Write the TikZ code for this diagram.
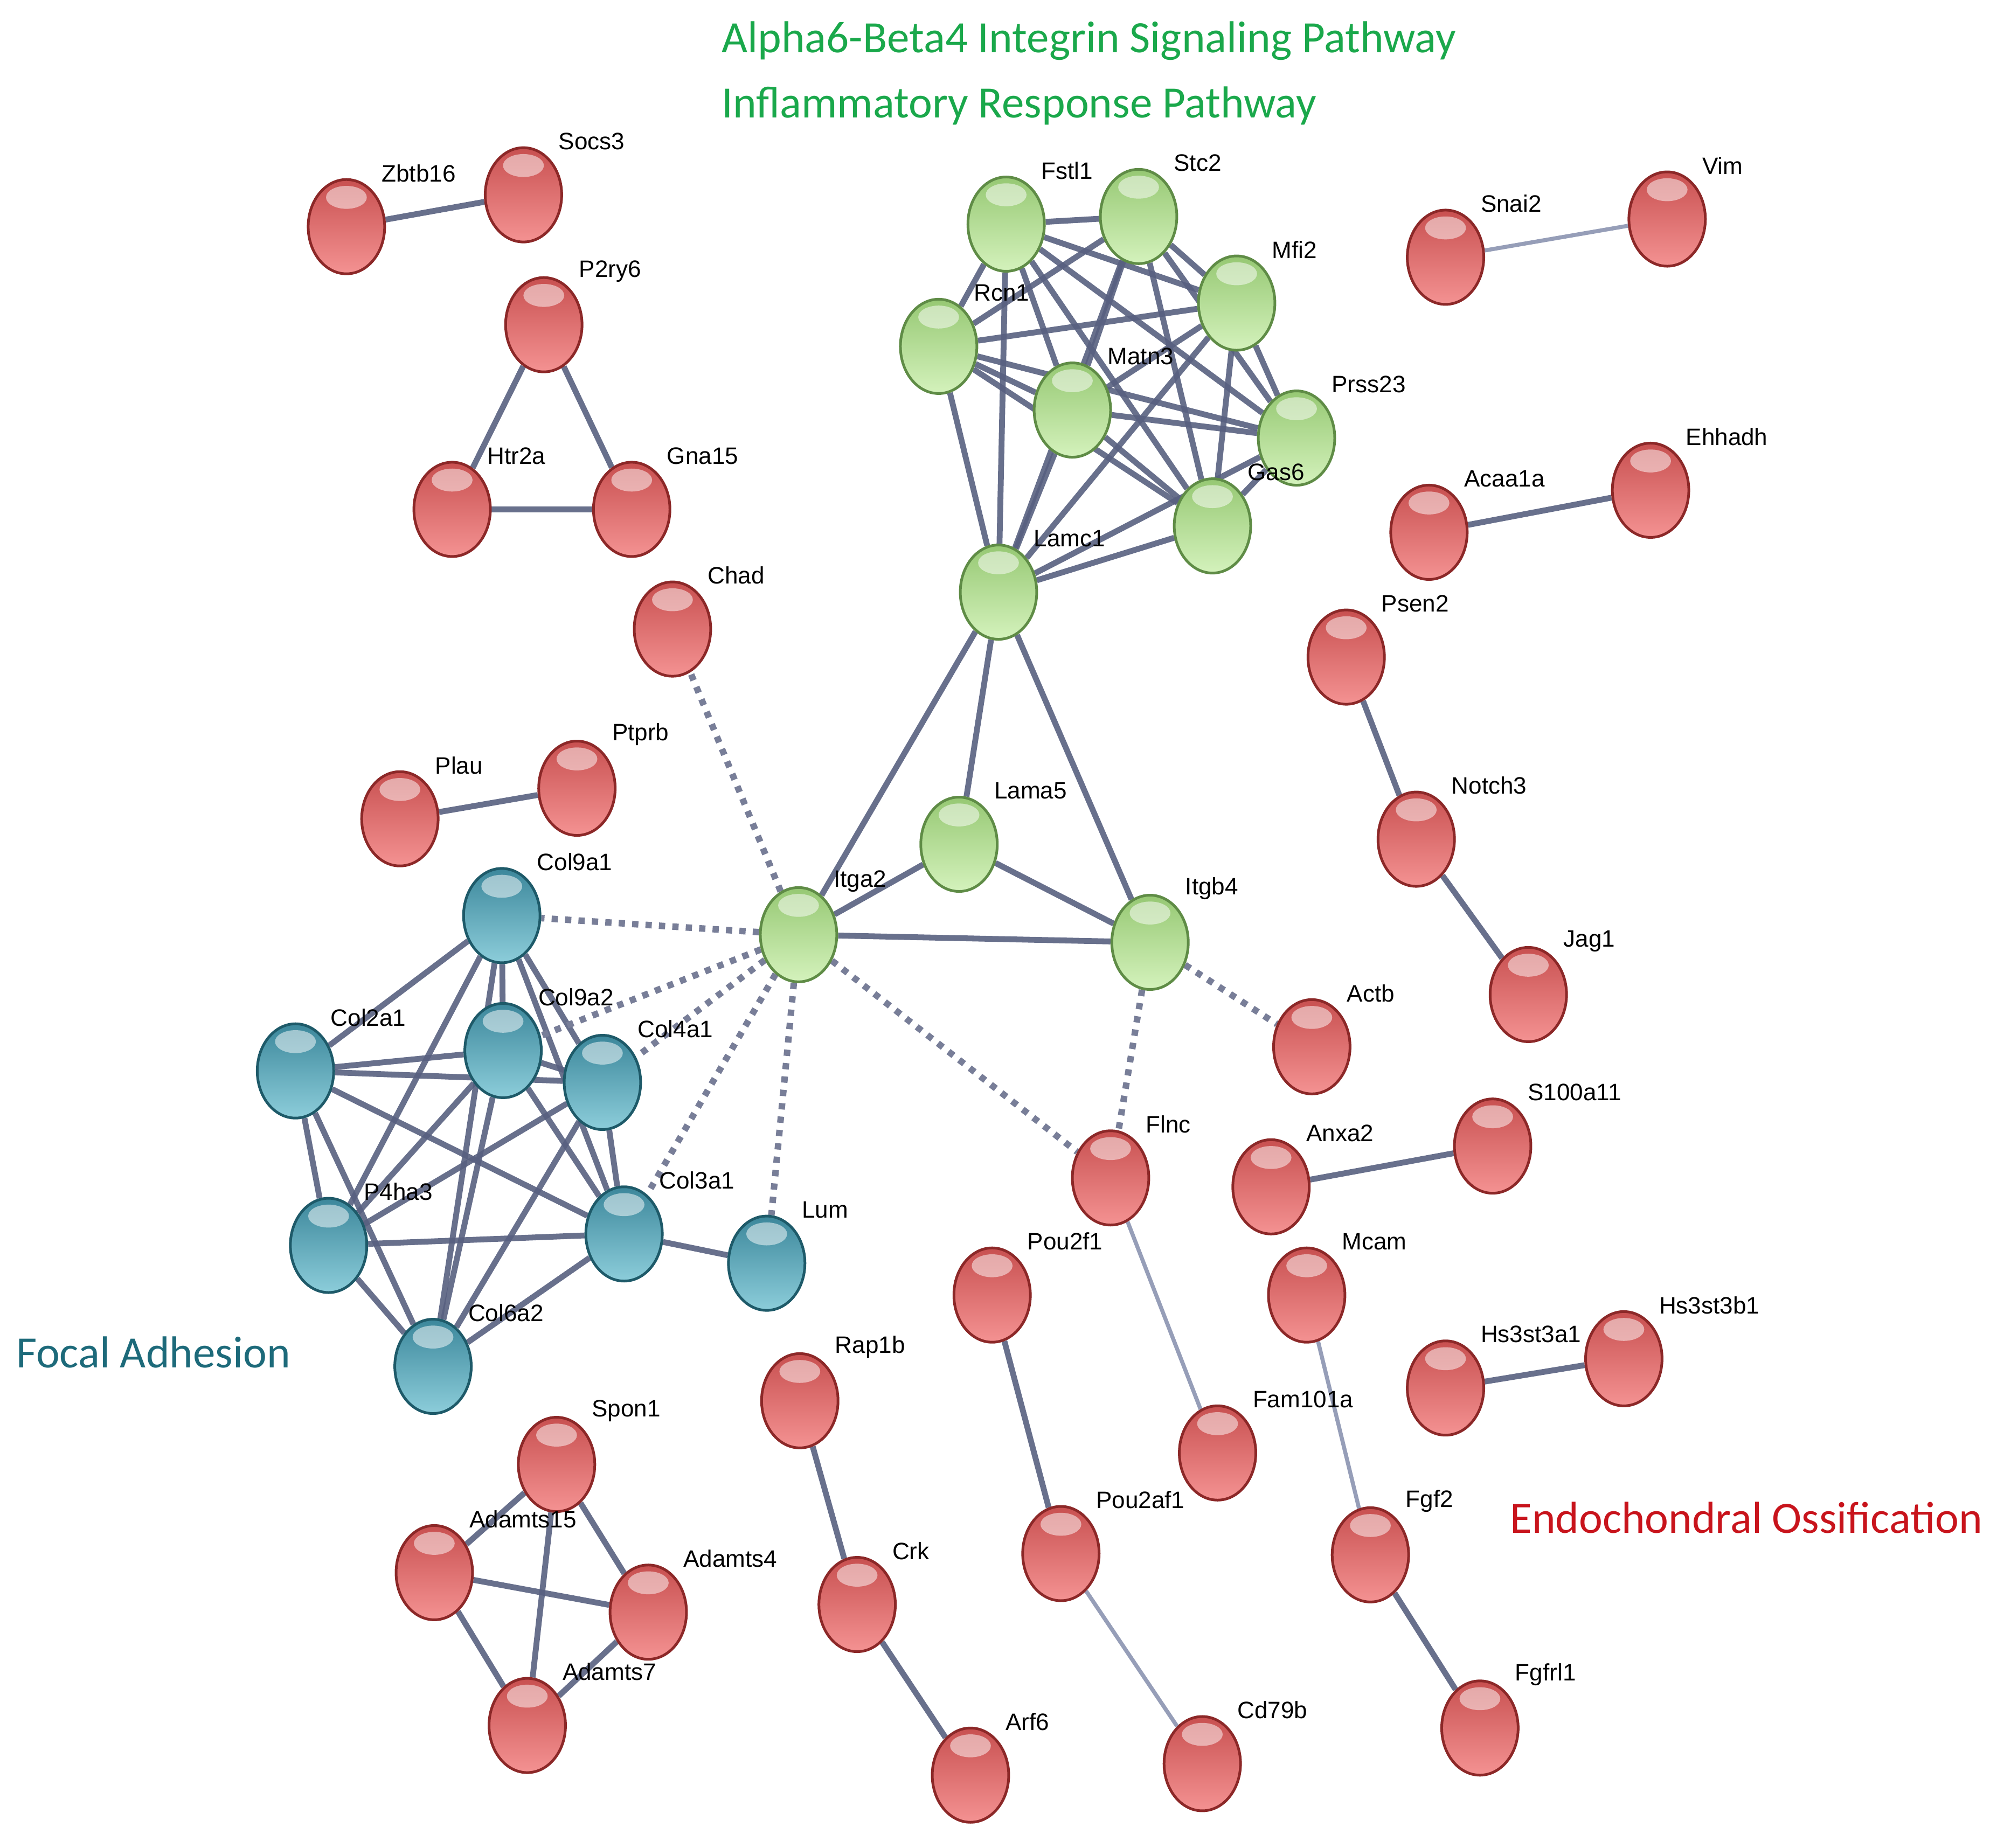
\documentclass[tikz,border=0pt]{standalone}
\usepackage{fontspec}
\newfontfamily\lblfont{Liberation Sans}
\newfontfamily\ttlfont{Carlito}
\usetikzlibrary{shapes.geometric,backgrounds}

\definecolor{linkc}{RGB}{88,96,128}
\definecolor{lightc}{RGB}{150,158,184}
\definecolor{dashc}{RGB}{120,126,152}
\definecolor{rtop}{RGB}{200,80,80}
\definecolor{rbot}{RGB}{244,146,146}
\definecolor{rrim}{RGB}{140,40,40}
\definecolor{gtop}{RGB}{150,200,115}
\definecolor{gbot}{RGB}{212,242,188}
\definecolor{grim}{RGB}{95,140,70}
\definecolor{btop}{RGB}{60,135,155}
\definecolor{bbot}{RGB}{140,205,218}
\definecolor{brim}{RGB}{30,90,105}
\definecolor{ttlgreen}{RGB}{26,168,75}
\definecolor{ttlblue}{RGB}{29,106,122}
\definecolor{ttlred}{RGB}{200,20,28}

\begin{document}
\begin{tikzpicture}[x=0.01cm, y=-0.01cm,
    ball/.style={ellipse, minimum width=0.6cm, minimum height=0.74cm, inner sep=0pt, line width=0.6pt,
        path picture={\fill[white, opacity=0.5] ([yshift=-0.14cm]path picture bounding box.north) ellipse (0.16cm and 0.09cm);}},
    rball/.style={ball, draw=rrim, top color=rtop, bottom color=rbot},
    gball/.style={ball, draw=grim, top color=gtop, bottom color=gbot},
    bball/.style={ball, draw=brim, top color=btop, bottom color=bbot},
    lbl/.style={font=\lblfont\fontsize{5.3}{6}\selectfont, anchor=west, xshift=0.27cm, yshift=0.04cm, inner sep=0pt},
    link/.style={draw=linkc, line width=1.3pt, opacity=0.9},
    lightlink/.style={draw=lightc, line width=0.9pt},
    dlink/.style={draw=dashc, line width=1.45pt, dash pattern=on 1.4pt off 1.6pt},
    ttl/.style={font=\ttlfont\fontsize{10}{12}\selectfont, anchor=west, inner sep=0pt}]
    \useasboundingbox (0,0) rectangle (1568,1451);

    % Titel
    \node[ttl, text=ttlgreen] (t1) at (566,32) {Alpha6-Beta4 Integrin Signaling Pathway};
    \node[ttl, text=ttlgreen] (t2) at (566,83) {Inflammatory Response Pathway};
    \node[ttl, text=ttlblue] (t3) at (12,1062) {Focal Adhesion};
    \node[ttl, text=ttlred] (t4) at (1185,1192) {Endochondral Ossification};

    % Gruene Knoten
    \node[gball, label={[lbl]above:Fstl1}] (fstl1) at (790,176) {};
    \node[gball, label={[lbl]above:Stc2}] (stc2) at (894,170) {};
    \node[gball, label={[lbl]above:Mfi2}] (mfi2) at (971,238) {};
    \node[gball, label={[lbl]above:Rcn1}] (rcn1) at (737,272) {};
    \node[gball, label={[lbl]above:Matn3}] (matn3) at (842,322) {};
    \node[gball, label={[lbl]above:Prss23}] (prss23) at (1018,344) {};
    \node[gball, label={[lbl]above:Gas6}] (gas6) at (952,413) {};
    \node[gball, label={[lbl]above:Lamc1}] (lamc1) at (784,465) {};
    \node[gball, label={[lbl]above:Lama5}] (lama5) at (753,663) {};
    \node[gball, label={[lbl]above:Itga2}] (itga2) at (627,734) {};
    \node[gball, label={[lbl]above:Itgb4}] (itgb4) at (903,740) {};

    % Blaue Knoten
    \node[bball, label={[lbl]above:Col9a1}] (col9a1) at (394,719) {};
    \node[bball, label={[lbl]above:Col2a1}] (col2a1) at (232,841) {};
    \node[bball, label={[lbl]above:Col9a2}] (col9a2) at (395,825) {};
    \node[bball, label={[lbl]above:Col4a1}] (col4a1) at (473,850) {};
    \node[bball, label={[lbl]above:P4ha3}] (p4ha3) at (258,978) {};
    \node[bball, label={[lbl]above:Col3a1}] (col3a1) at (490,969) {};
    \node[bball, label={[lbl]above:Lum}] (lum) at (602,992) {};
    \node[bball, label={[lbl]above:Col6a2}] (col6a2) at (340,1073) {};

    % Rote Knoten
    \node[rball, label={[lbl]above:Zbtb16}] (zbtb16) at (272,178) {};
    \node[rball, label={[lbl]above:Socs3}] (socs3) at (411,153) {};
    \node[rball, label={[lbl]above:P2ry6}] (p2ry6) at (427,255) {};
    \node[rball, label={[lbl]above:Htr2a}] (htr2a) at (355,400) {};
    \node[rball, label={[lbl]above:Gna15}] (gna15) at (496,400) {};
    \node[rball, label={[lbl]above:Chad}] (chad) at (528,494) {};
    \node[rball, label={[lbl]above:Plau}] (plau) at (314,643) {};
    \node[rball, label={[lbl]above:Ptprb}] (ptprb) at (453,619) {};
    \node[rball, label={[lbl]above:Snai2}] (snai2) at (1135,202) {};
    \node[rball, label={[lbl]above:Vim}] (vim) at (1309,172) {};
    \node[rball, label={[lbl]above:Acaa1a}] (acaa1a) at (1122,418) {};
    \node[rball, label={[lbl]above:Ehhadh}] (ehhadh) at (1296,385) {};
    \node[rball, label={[lbl]above:Psen2}] (psen2) at (1057,516) {};
    \node[rball, label={[lbl]above:Notch3}] (notch3) at (1112,659) {};
    \node[rball, label={[lbl]above:Jag1}] (jag1) at (1200,781) {};
    \node[rball, label={[lbl]above:Actb}] (actb) at (1030,822) {};
    \node[rball, label={[lbl]above:Flnc}] (flnc) at (872,925) {};
    \node[rball, label={[lbl]above:Anxa2}] (anxa2) at (998,932) {};
    \node[rball, label={[lbl]above:S100a11}] (s100a11) at (1172,900) {};
    \node[rball, label={[lbl]above:Pou2f1}] (pou2f1) at (779,1017) {};
    \node[rball, label={[lbl]above:Mcam}] (mcam) at (1026,1017) {};
    \node[rball, label={[lbl]above:Hs3st3a1}] (hs3st3a1) at (1135,1090) {};
    \node[rball, label={[lbl]above:Hs3st3b1}] (hs3st3b1) at (1275,1067) {};
    \node[rball, label={[lbl]above:Fam101a}] (fam101a) at (956,1141) {};
    \node[rball, label={[lbl]above:Rap1b}] (rap1b) at (628,1100) {};
    \node[rball, label={[lbl]above:Crk}] (crk) at (673,1260) {};
    \node[rball, label={[lbl]above:Arf6}] (arf6) at (762,1394) {};
    \node[rball, label={[lbl]above:Pou2af1}] (pou2af1) at (833,1220) {};
    \node[rball, label={[lbl]above:Cd79b}] (cd79b) at (944,1385) {};
    \node[rball, label={[lbl]above:Fgf2}] (fgf2) at (1076,1221) {};
    \node[rball, label={[lbl]above:Fgfrl1}] (fgfrl1) at (1162,1357) {};
    \node[rball, label={[lbl]above:Spon1}] (spon1) at (437,1150) {};
    \node[rball, label={[lbl]above:Adamts15}] (adamts15) at (341,1235) {};
    \node[rball, label={[lbl]above:Adamts4}] (adamts4) at (509,1266) {};
    \node[rball, label={[lbl]above:Adamts7}] (adamts7) at (414,1355) {};

    \begin{pgfonlayer}{background}
    % Gruener Block (alle mit allen)
    \foreach \a [count=\i] in {fstl1,stc2,mfi2,rcn1,matn3,prss23,gas6,lamc1}
        \foreach \b [count=\j] in {fstl1,stc2,mfi2,rcn1,matn3,prss23,gas6,lamc1}
            {\ifnum\j>\i \draw[link] (\a) -- (\b); \fi}
    \draw[link] (lamc1) -- (itga2);
    \draw[link] (lamc1) -- (lama5);
    \draw[link] (lamc1) -- (itgb4);
    \draw[link] (itga2) -- (lama5);
    \draw[link] (itga2) -- (itgb4);
    \draw[link] (lama5) -- (itgb4);

    % Blauer Block
    \draw[link] (col9a1) -- (col2a1);
    \draw[link] (col9a1) -- (col9a2);
    \draw[link] (col9a1) -- (col4a1);
    \draw[link] (col9a1) -- (col3a1);
    \draw[link] (col9a1) -- (p4ha3);
    \draw[link] (col9a1) -- (col6a2);
    \draw[link] (col2a1) -- (col9a2);
    \draw[link] (col2a1) -- (col4a1);
    \draw[link] (col2a1) -- (col3a1);
    \draw[link] (col2a1) -- (p4ha3);
    \draw[link] (col2a1) -- (col6a2);
    \draw[link] (col9a2) -- (col4a1);
    \draw[link] (col9a2) -- (col3a1);
    \draw[link] (col9a2) -- (p4ha3);
    \draw[link] (col9a2) -- (col6a2);
    \draw[link] (col4a1) -- (col3a1);
    \draw[link] (col4a1) -- (p4ha3);
    \draw[link] (col4a1) -- (col6a2);
    \draw[link] (p4ha3) -- (col3a1);
    \draw[link] (p4ha3) -- (col6a2);
    \draw[link] (col3a1) -- (col6a2);
    \draw[link] (col3a1) -- (lum);

    % gestrichelt
    \draw[dlink] (itga2) -- (chad);
    \draw[dlink] (itga2) -- (col9a1);
    \draw[dlink] (itga2) -- (col9a2);
    \draw[dlink] (itga2) -- (col4a1);
    \draw[dlink] (itga2) -- (col3a1);
    \draw[dlink] (itga2) -- (lum);
    \draw[dlink] (itga2) -- (flnc);
    \draw[dlink] (itgb4) -- (flnc);
    \draw[dlink] (itgb4) -- (actb);

    % Rote Paare
    \draw[link] (zbtb16) -- (socs3);
    \draw[link] (p2ry6) -- (htr2a);
    \draw[link] (p2ry6) -- (gna15);
    \draw[link] (htr2a) -- (gna15);
    \draw[link] (plau) -- (ptprb);
    \draw[lightlink] (snai2) -- (vim);
    \draw[link] (acaa1a) -- (ehhadh);
    \draw[link] (psen2) -- (notch3);
    \draw[link] (notch3) -- (jag1);
    \draw[link] (anxa2) -- (s100a11);
    \draw[link] (hs3st3a1) -- (hs3st3b1);
    \draw[lightlink] (flnc) -- (fam101a);
    \draw[lightlink] (mcam) -- (fgf2);
    \draw[link] (fgf2) -- (fgfrl1);
    \draw[link] (pou2f1) -- (pou2af1);
    \draw[lightlink] (pou2af1) -- (cd79b);
    \draw[link] (rap1b) -- (crk);
    \draw[link] (crk) -- (arf6);
    \draw[link] (spon1) -- (adamts15);
    \draw[link] (spon1) -- (adamts4);
    \draw[link] (spon1) -- (adamts7);
    \draw[link] (adamts15) -- (adamts4);
    \draw[link] (adamts15) -- (adamts7);
    \draw[link] (adamts4) -- (adamts7);
    \end{pgfonlayer}
\end{tikzpicture}
\end{document}
